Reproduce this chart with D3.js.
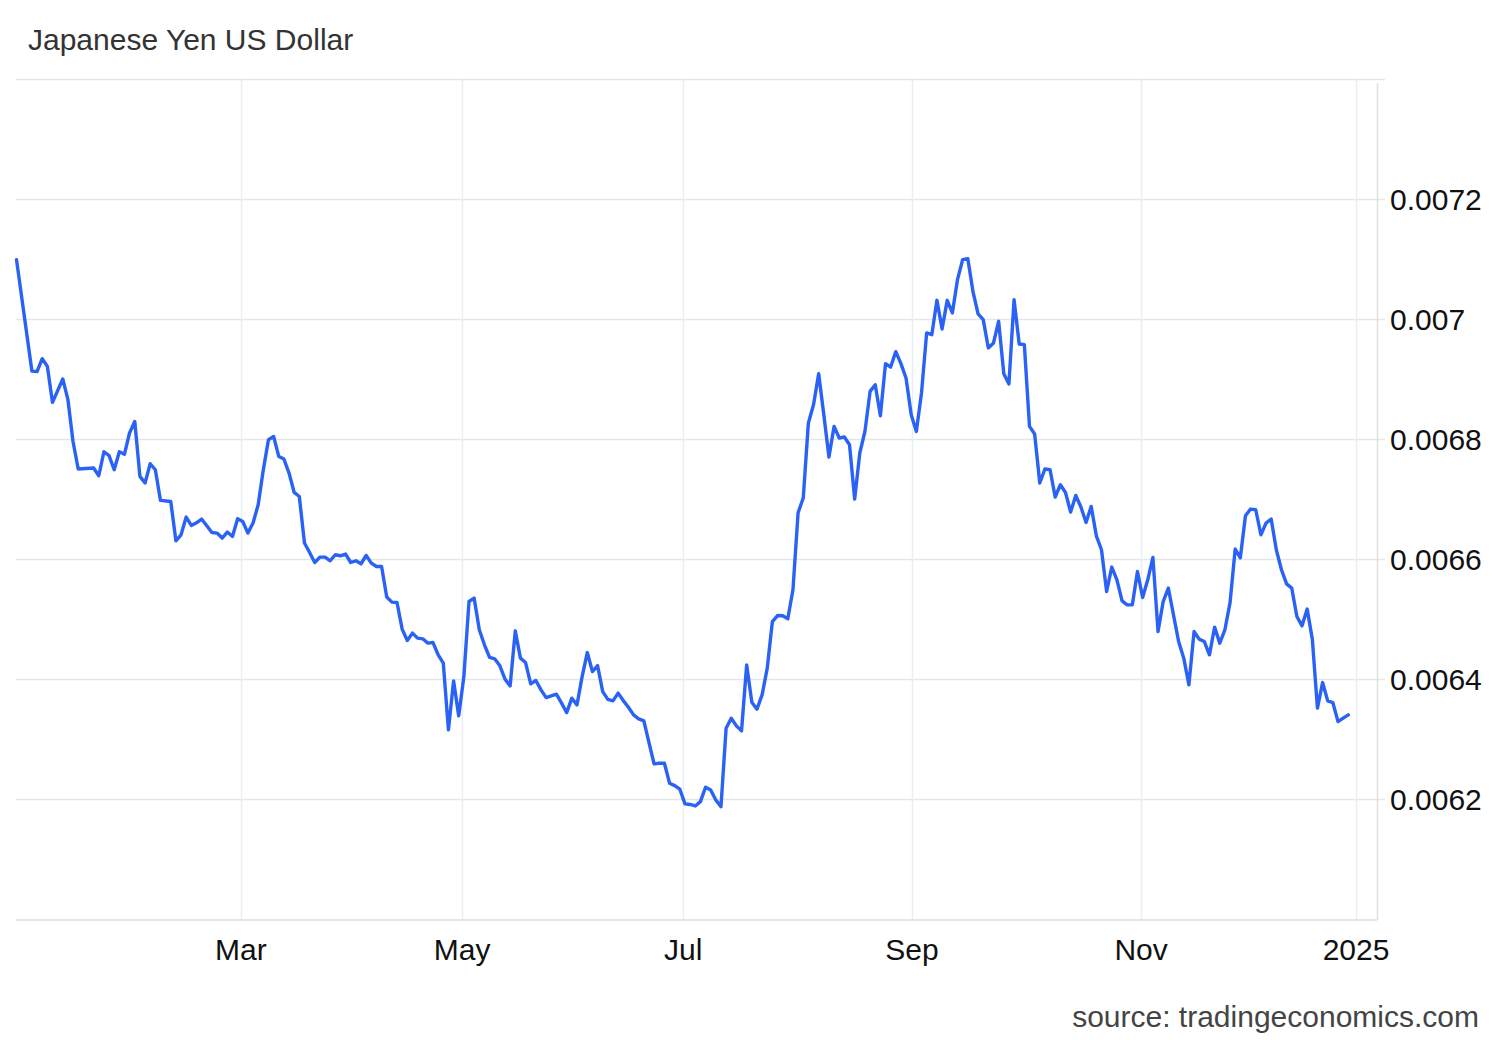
<!DOCTYPE html>
<html>
<head>
<meta charset="utf-8">
<script src="https://cdn.jsdelivr.net/npm/d3@7"></script>
<style>
  body { margin: 0; background: #ffffff; }
  svg { display: block; font-family: "Liberation Sans", Arial, sans-serif; }
</style>
</head>
<body>
<svg id="chart" width="1500" height="1040"></svg>
<script>
const chartTitle = "Japanese Yen US Dollar";
const sourceText = "source: tradingeconomics.com";

// trading-day index (0 = 1 Jan 2024, weekdays only) of each plotted point
const tradingDay = [
  0,3,4,5,6,7,9,10,11,12,15,16,17,18,19,20,21,22,23,24,25,26,27,28,30,
  31,32,33,34,35,36,37,38,39,40,41,42,43,44,45,46,47,48,49,50,51,52,53,54,55,
  56,57,58,59,60,61,62,63,64,65,66,67,68,69,70,71,72,73,74,75,76,77,78,79,80,
  81,82,83,84,85,86,87,88,89,90,91,92,93,94,95,96,97,98,99,100,101,102,103,104,105,
  106,107,108,109,110,111,112,113,114,115,116,117,118,119,120,121,122,123,124,125,126,127,128,129,130,
  131,132,133,134,135,136,137,138,139,140,141,142,143,144,145,146,147,148,149,150,151,152,153,154,155,
  156,157,158,159,160,161,162,163,164,165,166,167,168,169,170,171,172,173,174,175,176,177,178,179,180,
  181,182,183,184,185,186,187,188,189,190,191,192,193,194,195,196,197,198,199,200,201,202,203,204,205,
  206,207,208,209,210,211,212,213,214,215,216,217,218,219,220,221,222,223,224,225,226,227,228,229,230,
  231,232,233,234,235,236,237,238,239,240,241,242,243,244,245,246,247,248,249,250,251,252,253,254,255,
  256,257,258,259
];

// JPY/USD rate for each trading day above
const rate = [
  0.0071008,0.006915,0.0069142,0.0069358,0.006923,0.006863,0.006902,0.0068675,0.0067975,0.006752,
  0.0067537,0.0067408,0.0067808,0.0067742,0.0067508,0.0067808,0.0067767,0.0068125,0.0068313,0.0067397,
  0.0067287,0.0067608,0.0067508,0.0066997,0.006698,
  0.0066325,0.0066425,0.006672,0.006658,0.0066625,0.0066687,0.0066575,0.0066463,0.0066453,0.006637,
  0.006647,0.0066397,0.0066692,0.0066647,0.0066453,0.006662,0.0066925,0.0067508,0.0068008,0.0068063,
  0.006773,0.0067687,0.0067453,0.006713,0.0067063,
  0.0066287,0.006613,0.0065963,0.0066053,0.0066053,0.0065992,0.0066092,0.0066075,0.0066103,0.0065963,
  0.0065992,0.0065942,0.006608,0.0065953,0.0065897,0.0065897,0.0065387,0.0065303,0.0065297,0.0064853,
  0.0064663,0.0064787,0.0064703,0.0064692,0.006462,
  0.006463,0.0064425,0.0064287,0.0063175,0.0063992,0.0063408,0.0064063,0.0065313,0.006537,0.0064842,
  0.0064592,0.0064383,0.0064358,0.0064242,0.006402,0.0063908,0.0064825,0.006437,0.0064297,0.0063942,
  0.0063997,0.0063842,0.0063713,0.0063742,0.006377,
  0.006362,0.0063463,0.0063703,0.0063592,0.0064063,0.0064463,0.0064147,0.0064247,0.0063813,0.0063683,
  0.0063658,0.0063787,0.0063663,0.0063553,0.0063425,0.0063358,0.0063325,0.0062963,0.0062608,0.006262,
  0.006262,0.0062287,0.0062247,0.0062187,0.0061942,
  0.0061933,0.0061908,0.006198,0.006222,0.0062175,0.0062008,0.0061897,0.0063203,0.006337,0.0063242,
  0.0063158,0.0064258,0.0063637,0.006352,0.0063758,0.0064203,0.006498,0.006508,0.0065075,0.0065025,
  0.0065508,0.0066792,0.0067037,0.0068287,0.0068592,
  0.0069108,0.0068425,0.006772,0.006823,0.0068037,0.0068053,0.0067925,0.006702,0.0067787,0.0068147,
  0.0068813,0.0068925,0.0068408,0.0069275,0.006922,0.0069475,0.0069275,0.0069033,0.0068425,0.0068147,
  0.0068787,0.0069787,0.0069758,0.007033,0.0069853,
  0.007033,0.007012,0.0070675,0.0071008,0.0071025,0.007048,0.0070103,0.0070008,0.0069537,0.006962,
  0.006998,0.0069108,0.0068937,0.0070342,0.0069603,0.0069592,0.006823,0.0068103,0.0067287,0.006752,
  0.0067508,0.0067053,0.0067258,0.006713,0.0066803,
  0.006708,0.0066887,0.006663,0.0066897,0.0066408,0.0066175,0.006548,0.0065887,0.0065675,0.0065325,
  0.0065258,0.0065258,0.0065813,0.006538,0.0065675,0.0066047,0.0064813,0.0065313,0.0065537,0.0065092,
  0.0064647,0.006437,0.0063925,0.0064813,0.0064687,
  0.0064647,0.0064425,0.0064887,0.006462,0.0064842,0.0065292,0.0066187,0.0066042,0.0066742,0.0066853,
  0.0066842,0.0066425,0.006662,0.0066687,0.0066175,0.0065842,0.0065608,0.0065537,0.0065063,0.0064908,
  0.0065187,0.0064687,0.0063537,0.0063963,0.0063658,
  0.006363,0.0063313,0.006337,0.0063425
];

// x-axis month ticks, expressed on the trading-day axis
const monthTickDays = [43.65, 86.65, 129.65, 174.15, 218.7, 260.5];
const monthTickLabels = ["Mar", "May", "Jul", "Sep", "Nov", "2025"];

// y-axis ticks
const yGridValues = [0.0062, 0.0064, 0.0066, 0.0068, 0.007, 0.0072, 0.0074];
const yTickValues = [0.0062, 0.0064, 0.0066, 0.0068, 0.007, 0.0072];
const yTickLabels = ["0.0062", "0.0064", "0.0066", "0.0068", "0.007", "0.0072"];

const data = tradingDay.map((d, i) => ({ day: d, value: rate[i] }));

const svg = d3.select("#chart");
const plot = { left: 16, right: 1377, top: 79.5, bottom: 920 };

const x = d3.scaleLinear().domain([0, 259]).range([16.5, 1348.3]);
const y = d3.scaleLinear().domain([0.006, 0.0074]).range([920.5, 80]);

// horizontal grid
svg.append("g").selectAll("line").data(yGridValues).join("line")
  .attr("x1", plot.left).attr("x2", 1385)
  .attr("y1", d => Math.round(y(d)) - 0.5).attr("y2", d => Math.round(y(d)) - 0.5)
  .attr("stroke", "#e6e6e6").attr("stroke-width", 1.5);

// vertical grid
svg.append("g").selectAll("line").data(monthTickDays).join("line")
  .attr("x1", d => Math.round(x(d)) + 0.5).attr("x2", d => Math.round(x(d)) + 0.5)
  .attr("y1", plot.top).attr("y2", plot.bottom)
  .attr("stroke", "#e6eef7").attr("stroke-width", 1.5);

// right axis line
svg.append("line")
  .attr("x1", plot.right + 0.5).attr("x2", plot.right + 0.5)
  .attr("y1", plot.top + 4).attr("y2", plot.bottom)
  .attr("stroke", "#e0e0e0").attr("stroke-width", 1.5);

// bottom axis line
svg.append("line")
  .attr("x1", plot.left).attr("x2", plot.right)
  .attr("y1", plot.bottom).attr("y2", plot.bottom)
  .attr("stroke", "#dcdcdc").attr("stroke-width", 1.5);

// series line
const line = d3.line().x(d => x(d.day)).y(d => y(d.value));
svg.append("path").datum(data)
  .attr("d", line)
  .attr("fill", "none")
  .attr("stroke", "#2a62f5")
  .attr("stroke-width", 3.4)
  .attr("stroke-linejoin", "round")
  .attr("stroke-linecap", "round");

// y labels
svg.append("g").selectAll("text").data(yTickValues).join("text")
  .attr("x", 1390).attr("y", d => y(d) + 10)
  .attr("font-size", 30).attr("fill", "#111")
  .text((d, i) => yTickLabels[i]);

// x labels
svg.append("g").selectAll("text").data(monthTickDays).join("text")
  .attr("x", d => x(d)).attr("y", 960)
  .attr("text-anchor", "middle")
  .attr("font-size", 30).attr("fill", "#111")
  .text((d, i) => monthTickLabels[i]);

// title
svg.append("text").attr("x", 28).attr("y", 50)
  .attr("font-size", 30).attr("fill", "#333").text(chartTitle);

// source
svg.append("text").attr("x", 1479).attr("y", 1027)
  .attr("text-anchor", "end")
  .attr("font-size", 30).attr("fill", "#444").text(sourceText);
</script>
</body>
</html>
